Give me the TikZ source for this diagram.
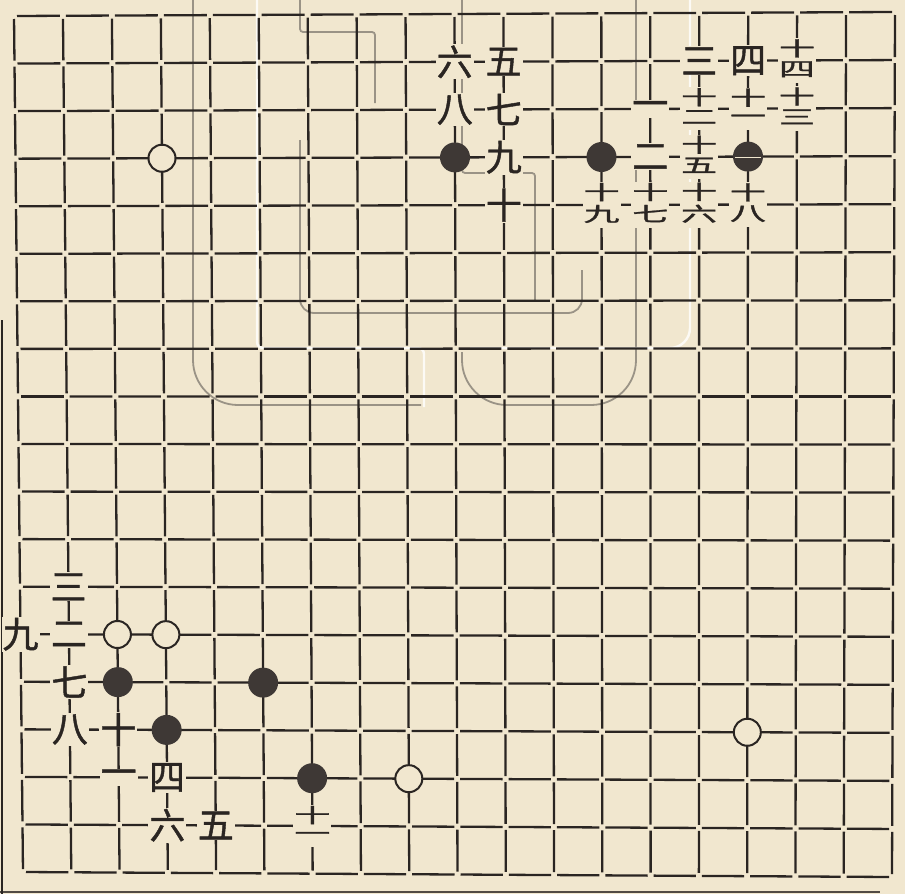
\documentclass[tikz,border=0pt]{standalone}
\usepackage{fontspec}
\newfontfamily\cjk[FakeBold=1.2]{Noto Sans CJK SC}
\usepackage{graphicx}
\usetikzlibrary{calc}
\definecolor{paper}{HTML}{F1E7CF}
\definecolor{ink}{HTML}{2A2522}
\definecolor{stoneink}{HTML}{3E3835}
\definecolor{ghost}{HTML}{7E786E}
\newcommand{\dnum}[1]{\begin{tabular}{@{}c@{}}\scalebox{1}[0.55]{十}\\\scalebox{1}[0.55]{#1}\end{tabular}}
\begin{document}
\begin{tikzpicture}[x=1pt,y=-1pt,
  gridline/.style={ink, line width=2.3pt},
  bstone/.style={circle, fill=stoneink, minimum size=30pt, inner sep=0pt},
  wstone/.style={circle, draw=ink, line width=2pt, fill=paper, minimum size=27pt, inner sep=0pt},
  lbl/.style={font=\cjk\fontsize{36}{18}\selectfont, fill=paper, inner sep=1pt, text=ink},
  ghostline/.style={ghost, line width=1.8pt, opacity=0.75, rounded corners=45pt},
  ghostwhite/.style={white, line width=2.4pt, opacity=0.8, rounded corners=20pt}]
\fill[paper] (0,0) rectangle (905,894);
\useasboundingbox (0,0) rectangle (905,894);
% stamp show-through
\draw[ghostline] (193,-5) -- (193,405) -- (421,405);
\draw[ghostline] (462,352) -- (462,405) -- (636,405) -- (636,143);
\draw[ghostline, rounded corners=3pt] (300,-5) -- (300,32) -- (375,32) -- (375,103);
\draw[ghostline, rounded corners=14pt] (300,140) -- (300,313) -- (582,313) -- (582,270);
\draw[ghostline, rounded corners=3pt] (462,-5) -- (462,173) -- (535,173) -- (535,300);
\draw[ghostline, rounded corners=2pt] (636,-5) -- (636,103) -- (660,103);
\draw[ghostwhite, rounded corners=6pt] (257,-5) -- (257,348) -- (424,348) -- (424,407);
\draw[ghostwhite] (690,-5) -- (690,348) -- (470,348);
% page edges
\draw[ink, line width=2pt] (2,320) -- (2,894);
\draw[ink, line width=1.5pt, opacity=0.8] (0,892) -- (880,892);
% grid coordinates (slightly keystoned like the print)
\foreach \i in {0,...,18}{
  \foreach \j in {0,...,18}{
    \pgfmathsetmacro\tx{14+\i*881/18}
    \pgfmathsetmacro\bx{23+\i*869/18}
    \pgfmathsetmacro\ty{16-\i*4/18}
    \pgfmathsetmacro\by{872+\i*5/18}
    \pgfmathsetmacro\gx{\tx+(\bx-\tx)*\j/18}
    \pgfmathsetmacro\gy{\ty+(\by-\ty)*\j/18}
    \coordinate (g-\i-\j) at (\gx,\gy);
  }}
% grid lines, broken at every intersection
\foreach \i in {0,...,18}{
  \foreach \j [evaluate=\j as \jj using int(\j+1)] in {0,...,17}{
    \draw[gridline] ($(g-\i-\j)!3pt!(g-\i-\jj)$) -- ($(g-\i-\jj)!3pt!(g-\i-\j)$);
    \draw[gridline] ($(g-\j-\i)!3pt!(g-\jj-\i)$) -- ($(g-\jj-\i)!3pt!(g-\j-\i)$);
  }}
% stones
\node[wstone] (w-3-3) at (g-3-3) {};
\node[bstone] (b-9-3) at (g-9-3) {};
\node[bstone] (b-12-3) at (g-12-3) {};
\node[bstone] (b-15-3) at (g-15-3) {};
\draw[paper, line width=1.8pt] ($(b-15-3.west)+(2,1)$) -- ($(b-15-3.east)+(-2,1)$);
\node[wstone] (w-2-13) at (g-2-13) {};
\node[wstone] (w-3-13) at (g-3-13) {};
\node[bstone] (b-2-14) at (g-2-14) {};
\node[bstone] (b-5-14) at (g-5-14) {};
\node[bstone] (b-3-15) at (g-3-15) {};
\node[bstone] (b-6-16) at (g-6-16) {};
\node[wstone] (w-8-16) at (g-8-16) {};
\node[wstone] (w-15-15) at (g-15-15) {};
% move numbers, upper group
\node[lbl] (u6) at (g-9-1) {六};
\node[lbl] (u5) at (g-10-1) {五};
\node[lbl] (u3) at (g-14-1) {三};
\node[lbl] (u4) at (g-15-1) {四};
\node[lbl] (u14) at (g-16-1) {\dnum{四}};
\node[lbl] (u8) at (g-9-2) {八};
\node[lbl] (u7) at (g-10-2) {七};
\node[lbl] (u1) at (g-13-2) {一};
\node[lbl] (u12) at (g-14-2) {\dnum{二}};
\node[lbl] (u11) at (g-15-2) {\dnum{一}};
\node[lbl] (u13) at (g-16-2) {\dnum{三}};
\node[lbl] (u9) at (g-10-3) {九};
\node[lbl] (u2) at (g-13-3) {二};
\node[lbl] (u15) at (g-14-3) {\dnum{五}};
\node[lbl] (u10) at (g-10-4) {十};
\node[lbl] (u19) at (g-12-4) {\dnum{九}};
\node[lbl] (u17) at (g-13-4) {\dnum{七}};
\node[lbl] (u16) at (g-14-4) {\dnum{六}};
\node[lbl] (u18) at (g-15-4) {\dnum{八}};
% move numbers, lower group
\node[lbl] (l3) at (g-1-12) {三};
\node[lbl] (l9) at (g-0-13) {九};
\node[lbl] (l2) at (g-1-13) {二};
\node[lbl] (l7) at (g-1-14) {七};
\node[lbl] (l8) at (g-1-15) {八};
\node[lbl] (l10) at (g-2-15) {十};
\node[lbl] (l1) at (g-2-16) {一};
\node[lbl] (l4) at (g-3-16) {四};
\node[lbl] (l6) at (g-3-17) {六};
\node[lbl] (l5) at (g-4-17) {五};
\node[lbl] (l11) at (g-6-17) {\dnum{一}};
\end{tikzpicture}
\end{document}
